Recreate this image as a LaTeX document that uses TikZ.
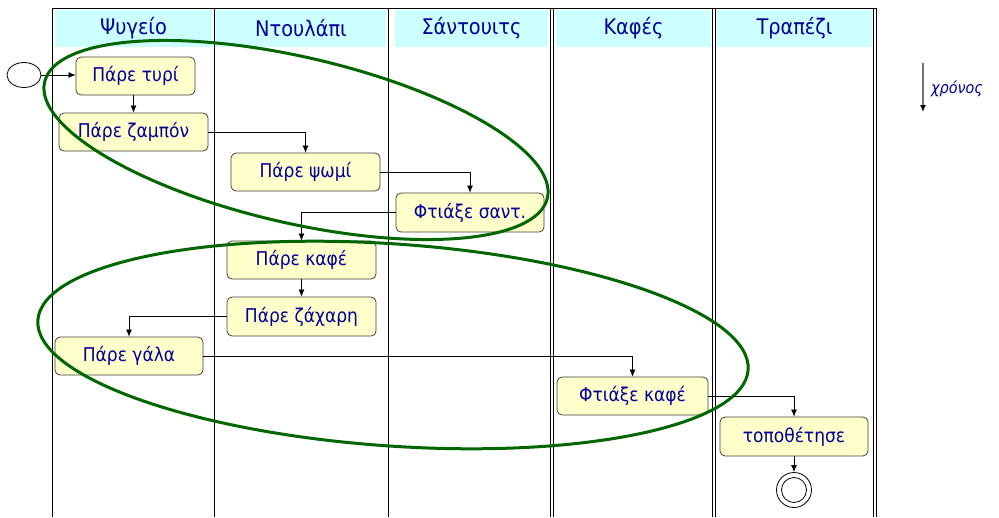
\documentclass[tikz,border=0pt]{standalone}
\usepackage{fontspec}
\setmainfont{DejaVu Sans Condensed}
\usetikzlibrary{arrows.meta,shapes.geometric}
\definecolor{navy}{RGB}{0,0,150}
\definecolor{boxfill}{RGB}{255,255,204}
\definecolor{hdrfill}{RGB}{204,255,255}
\definecolor{ellgreen}{RGB}{0,102,0}
\begin{document}
\begin{tikzpicture}[x=1pt,y=-1pt,
  act/.style={draw=black!75, fill=boxfill, rounded corners=5pt, line width=0.8pt,
    minimum height=38pt, inner sep=0pt, text=navy, font=\fontsize{19}{22}\selectfont},
  hdr/.style={fill=hdrfill, inner sep=0pt, minimum height=37pt, text=navy,
    font=\fontsize{21.5}{24}\selectfont},
  lane/.style={line width=0.9pt},
  flow/.style={line width=0.7pt, -{Latex[length=7pt,width=6pt]}},
  grp/.style={draw=ellgreen, line width=3pt}
]
\useasboundingbox (0,0) rectangle (999,517);
% swimlanes
\draw[lane] (52,8) -- (876,8);
\foreach \x in {52,214,388,550.5,553.5,712,715,873,876}
  \draw[lane] (\x,8) -- (\x,517);
% headers
\node[hdr, minimum width=157pt] (h1) at (133.5,28.5) {Ψυγείο};
\node[hdr, minimum width=170pt] (h2) at (301,28.5) {Ντουλάπι};
\node[hdr, minimum width=153pt] (h3) at (471.5,28.5) {Σάντουιτς};
\node[hdr, minimum width=155pt] (h4) at (633.5,28.5) {Καφές};
\node[hdr, minimum width=155pt] (h5) at (794.5,28.5) {Τραπέζι};
% activities
\node[draw, ellipse, minimum width=34pt, minimum height=25pt, inner sep=0pt, line width=0.8pt] (start) at (24,75) {};
\node[act, minimum width=119pt] (tyri) at (135.5,76) {Πάρε τυρί};
\node[act, minimum width=149pt] (zambon) at (133.5,132) {Πάρε ζαμπόν};
\node[act, minimum width=149pt] (psomi) at (305.5,172) {Πάρε ψωμί};
\node[act, minimum width=148pt, minimum height=39pt] (sant) at (470,212.5) {Φτιάξε σαντ.};
\node[act, minimum width=149pt] (kafe) at (301.5,260) {Πάρε καφέ};
\node[act, minimum width=149pt, minimum height=39pt] (zachari) at (301.5,316.5) {Πάρε ζάχαρη};
\node[act, minimum width=148pt] (gala) at (129,356) {Πάρε γάλα};
\node[act, minimum width=151pt] (fkafe) at (632.5,396) {Φτιάξε καφέ};
\node[act, minimum width=148pt, minimum height=39pt] (topo) at (794,436.5) {τοποθέτησε};
\node[draw, circle, minimum size=35pt, inner sep=0pt, line width=0.8pt] (end) at (794,490) {};
\draw[line width=0.8pt] (end.center) circle[radius=12.5];
% flows
\draw[flow] (start.east) -- (tyri.west |- start.east);
\draw[flow] (tyri.south -| zambon.north) -- (zambon.north);
\draw[flow] (zambon.east) -| (psomi.north);
\draw[flow] (psomi.east) -| (sant.north);
\draw[flow] (sant.west) -| (kafe.north);
\draw[flow] (kafe.south) -- (zachari.north);
\draw[flow] (zachari.west) -| (gala.north);
\draw[flow] (gala.east) -| (fkafe.north);
\draw[flow] (fkafe.east) -| (topo.north);
\draw[flow] (topo.south) -- (end.north);
% time arrow
\coordinate (t0) at (923,63);
\coordinate (t1) at (923,112);
\draw[draw=black!55, line width=1.2pt, -{Latex[length=7pt,width=6pt,color=black]}] (t0) -- (t1);
\node[anchor=west, text=navy, font=\itshape\fontsize{16}{18}\selectfont, inner sep=0pt] (tlabel) at (931,89) {χρόνος};
% groupings
\draw[grp, rotate around={-13:(296,140)}] (296,140) ellipse [x radius=258, y radius=83];
\draw[grp, rotate around={-4:(393,345)}] (393,345) ellipse [x radius=356, y radius=101];
\end{tikzpicture}
\end{document}
